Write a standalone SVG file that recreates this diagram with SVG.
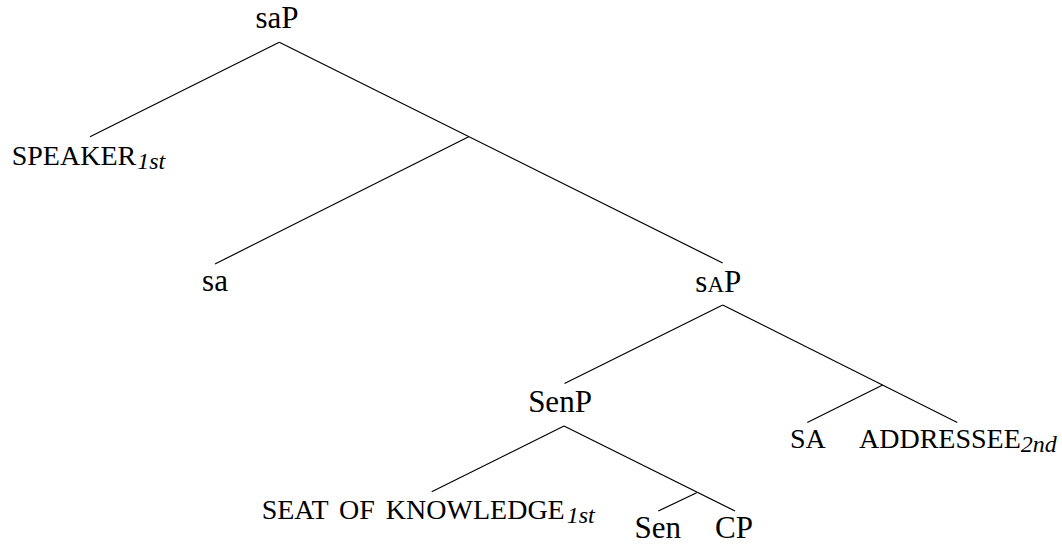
<svg xmlns="http://www.w3.org/2000/svg" width="1062" height="544" viewBox="0 0 1062 544">
<style>
.lbl{font-family:"Liberation Serif","Times New Roman",serif;font-size:31px;fill:#000;text-anchor:middle}
.sc{font-family:"Liberation Serif","Times New Roman",serif;font-size:28px;fill:#000;text-anchor:start}
.sub{font-style:italic;font-size:24px}
.small{font-size:23px}
#connectors line{stroke:#000;stroke-width:1.2;fill:none}
</style>
<rect width="1062" height="544" fill="#fff"/>
<g id="connectors">
<line x1="279.3" y1="42.3" x2="90" y2="136.7"/>
<line x1="279.3" y1="42.3" x2="722.7" y2="263"/>
<line x1="468.7" y1="136.7" x2="215" y2="264"/>
<line x1="722.7" y1="305" x2="564.5" y2="383.5"/>
<line x1="722.7" y1="305" x2="957.3" y2="422.5"/>
<line x1="882.7" y1="385" x2="807.3" y2="422.5"/>
<line x1="564" y1="426" x2="431.7" y2="491.7"/>
<line x1="564" y1="426" x2="735" y2="511"/>
<line x1="696.7" y1="492.7" x2="658.3" y2="511"/>
</g>
<g id="node-saP"><text class="lbl" x="277" y="28">saP</text></g>
<g id="node-speaker"><text class="sc" x="11.7" y="165">SPEAKER<tspan class="sub" dx="1" dy="4">1st</tspan></text></g>
<g id="node-sa"><text class="lbl" x="215" y="290.5">sa</text></g>
<g id="node-sAP"><text class="lbl" x="718.3" y="291.5">s<tspan class="small">A</tspan>P</text></g>
<g id="node-SenP"><text class="lbl" x="560" y="411.7">SenP</text></g>
<g id="node-SA"><text class="sc" x="790" y="447.5">SA</text></g>
<g id="node-addressee"><text class="sc" x="859" y="447.5">ADDRESSEE<tspan class="sub" dy="4">2nd</tspan></text></g>
<g id="node-seat"><text class="sc" x="261.7" y="519" style="word-spacing:4px">SEAT OF KNOWLEDGE<tspan class="sub" dx="2" dy="4">1st</tspan></text></g>
<g id="node-Sen"><text class="lbl" x="657.7" y="538.3">Sen</text></g>
<g id="node-CP"><text class="lbl" x="734" y="538.3">CP</text></g>
</svg>
